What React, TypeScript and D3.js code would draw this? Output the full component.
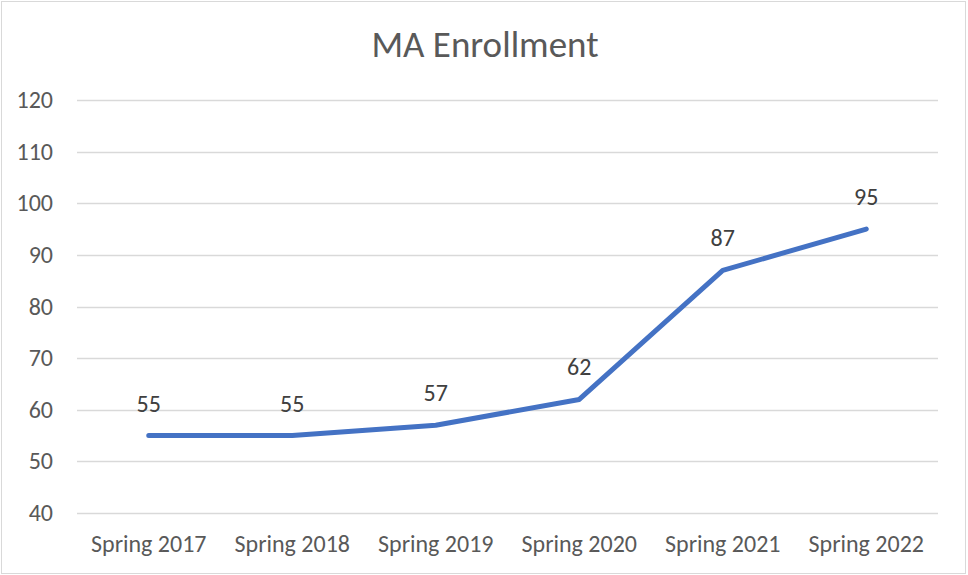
import React, { useEffect, useRef } from 'react';
import * as d3 from 'd3';

const categories = ['Spring 2017', 'Spring 2018', 'Spring 2019', 'Spring 2020', 'Spring 2021', 'Spring 2022'];
const enrollment = [55, 55, 57, 62, 87, 95];
const yTicks = [40, 50, 60, 70, 80, 90, 100, 110, 120];

const WIDTH = 968;
const HEIGHT = 575;

const App: React.FC = () => {
  const svgRef = useRef<SVGSVGElement>(null);

  useEffect(() => {
    if (!svgRef.current) return;
    document.body.style.margin = '0';

    const svg = d3.select(svgRef.current);
    svg.selectAll('*').remove();

    const font = 'Calibri, Carlito, "Open Sans", sans-serif';
    const textColor = '#595959';
    const margin = { top: 100, right: 30, bottom: 62, left: 77 };

    // chart border
    svg.append('rect')
      .attr('x', 1.5).attr('y', 1.5)
      .attr('width', WIDTH - 4).attr('height', HEIGHT - 3)
      .attr('fill', '#fff')
      .attr('stroke', '#D9D9D9')
      .attr('stroke-width', 1);

    const x = d3.scaleBand<string>()
      .domain(categories)
      .range([margin.left, WIDTH - margin.right]);

    const y = d3.scaleLinear()
      .domain([40, 120])
      .range([HEIGHT - margin.bottom, margin.top]);

    svg.append('text')
      .attr('x', 485).attr('y', 57)
      .attr('text-anchor', 'middle')
      .attr('font-family', font)
      .attr('font-size', 37)
      .attr('fill', textColor)
      .text('MA Enrollment');

    const grid = svg.append('g');
    grid.selectAll('line')
      .data(yTicks)
      .join('line')
      .attr('x1', margin.left).attr('x2', WIDTH - margin.right)
      .attr('y1', d => Math.round(y(d)) + 0.5).attr('y2', d => Math.round(y(d)) + 0.5)
      .attr('stroke', '#D9D9D9')
      .attr('stroke-width', 1.5);

    svg.append('g').selectAll('text')
      .data(yTicks)
      .join('text')
      .attr('x', 53)
      .attr('y', d => y(d) + 8)
      .attr('text-anchor', 'end')
      .attr('font-family', font)
      .attr('font-size', 24)
      .attr('fill', textColor)
      .text(d => d);

    const cx = (c: string) => (x(c) ?? 0) + x.bandwidth() / 2;

    svg.append('g').selectAll('text')
      .data(categories)
      .join('text')
      .attr('x', d => cx(d))
      .attr('y', 552)
      .attr('text-anchor', 'middle')
      .attr('font-family', font)
      .attr('font-size', 24)
      .attr('fill', textColor)
      .text(d => d);

    const line = d3.line<number>()
      .x((_: number, i: number) => cx(categories[i]))
      .y((d: number) => y(d));

    svg.append('path')
      .datum(enrollment)
      .attr('fill', 'none')
      .attr('stroke', '#4472C4')
      .attr('stroke-width', 5)
      .attr('stroke-linecap', 'round')
      .attr('stroke-linejoin', 'round')
      .attr('d', line);

    svg.append('g').selectAll('text')
      .data(enrollment)
      .join('text')
      .attr('x', (_, i) => cx(categories[i]))
      .attr('y', d => y(d) - 24)
      .attr('text-anchor', 'middle')
      .attr('font-family', font)
      .attr('font-size', 24)
      .attr('fill', '#404040')
      .text(d => d);
  }, []);

  return (
    <svg
      ref={svgRef}
      width={WIDTH}
      height={HEIGHT}
      style={{ position: 'absolute', left: 0, top: 0, display: 'block' }}
    />
  );
};

export default App;
